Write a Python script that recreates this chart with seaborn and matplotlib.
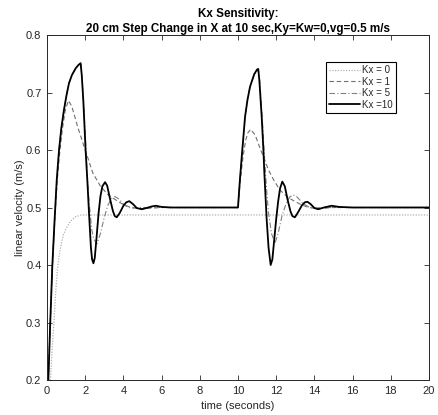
import matplotlib
matplotlib.use("Agg")
import matplotlib.pyplot as plt
import seaborn as sns
import pandas as pd

# ---- data ----
t_k0 = [0.0, 0.1, 0.19, 0.28, 0.37, 0.45, 0.54, 0.63, 0.72, 0.85, 1.06, 1.25, 1.5, 1.8, 2.1, 20.0]
v_k0 = [0.10, 0.15, 0.206, 0.26, 0.304, 0.35, 0.391, 0.415, 0.432, 0.452, 0.467, 0.477, 0.484, 0.487, 0.487, 0.487]

t_k1 = [0.0, 0.07, 0.17, 0.29, 0.41, 0.53, 0.65, 0.8, 0.95, 1.12, 1.3, 1.6, 2.0, 2.4, 2.8, 3.2, 3.65,
        4.0, 4.4, 5.0, 5.5, 6.0, 10.0, 10.1, 10.25, 10.4, 10.52, 10.66, 10.9, 11.1, 11.33, 11.6, 11.85,
        12.2, 12.6, 12.9, 13.3, 13.7, 14.2, 15.0, 20.0]
v_k1 = [0.13, 0.2, 0.3, 0.4, 0.48, 0.545, 0.59, 0.635, 0.668, 0.686, 0.676, 0.641, 0.600, 0.560, 0.537,
        0.522, 0.512, 0.505, 0.500, 0.498, 0.499, 0.5, 0.5, 0.54, 0.585, 0.617, 0.630, 0.636, 0.626,
        0.608, 0.588, 0.565, 0.549, 0.530, 0.518, 0.512, 0.505, 0.500, 0.498, 0.5, 0.5]

t_k5 = [0.0, 0.07, 0.17, 0.28, 0.4, 0.51, 0.63, 0.75, 0.89, 1.02, 1.15, 1.3, 1.5, 1.65, 1.78, 1.9, 2.0,
        2.1, 2.2, 2.35, 2.45, 2.62, 2.8, 3.0, 3.2, 3.4, 3.56, 3.75, 4.0, 4.25, 4.52, 5.0, 10.0,
        10.05, 10.1, 10.2, 10.37, 10.5, 10.63, 10.85, 11.06, 11.14, 11.28, 11.4, 11.5, 11.6, 11.75,
        11.94, 12.1, 12.3, 12.5, 12.7, 12.9, 13.1, 13.4, 13.7, 13.94, 14.5, 20.0]
v_k5 = [0.13, 0.2, 0.3, 0.4, 0.48, 0.548, 0.600, 0.638, 0.670, 0.695, 0.716, 0.730, 0.742, 0.748, 0.749,
        0.69, 0.63, 0.56, 0.51, 0.46, 0.445, 0.437, 0.455, 0.483, 0.505, 0.516, 0.519, 0.515, 0.506,
        0.500, 0.499, 0.5, 0.5, 0.525, 0.548, 0.59, 0.658, 0.688, 0.710, 0.731, 0.740, 0.72, 0.65,
        0.58, 0.53, 0.49, 0.455, 0.438, 0.455, 0.485, 0.505, 0.518, 0.522, 0.518, 0.507, 0.501,
        0.499, 0.5, 0.5]

t_k10 = [0.0, 0.07, 0.17, 0.28, 0.4, 0.51, 0.63, 0.75, 0.89, 1.02, 1.15, 1.3, 1.5, 1.65, 1.76, 1.82,
         1.90, 2.02, 2.11, 2.2, 2.3, 2.36, 2.43, 2.5, 2.6, 2.7, 2.8, 2.9, 3.04, 3.15, 3.3, 3.45, 3.55,
         3.65, 3.8, 4.0, 4.15, 4.31, 4.5, 4.7, 4.96, 5.2, 5.5, 5.7, 6.0, 6.5, 10.0,
         10.05, 10.1, 10.2, 10.37, 10.5, 10.63, 10.85, 11.0, 11.06, 11.12, 11.24, 11.33, 11.38, 11.5,
         11.6, 11.71, 11.8, 11.9, 12.0, 12.1, 12.2, 12.32, 12.45, 12.6, 12.75, 12.85, 12.98, 13.15,
         13.35, 13.5, 13.63, 13.8, 14.0, 14.2, 14.5, 14.9, 15.3, 16.0, 20.0]
v_k10 = [0.13, 0.2, 0.3, 0.4, 0.48, 0.548, 0.600, 0.638, 0.670, 0.695, 0.716, 0.730, 0.742, 0.748, 0.751,
         0.73, 0.687, 0.600, 0.548, 0.49, 0.43, 0.41, 0.403, 0.412, 0.45, 0.49, 0.52, 0.537, 0.544,
         0.538, 0.515, 0.494, 0.485, 0.483, 0.49, 0.503, 0.509, 0.511, 0.506, 0.499, 0.497, 0.499,
         0.502, 0.503, 0.501, 0.5, 0.5,
         0.525, 0.548, 0.59, 0.658, 0.688, 0.710, 0.732, 0.740, 0.741, 0.72, 0.658, 0.6, 0.56, 0.48,
         0.43, 0.40, 0.41, 0.445, 0.48, 0.51, 0.533, 0.545, 0.537, 0.513, 0.493, 0.485, 0.483, 0.492,
         0.504, 0.509, 0.510, 0.506, 0.499, 0.497, 0.500, 0.503, 0.501, 0.5, 0.5]

labels = ["Kx = 0", "Kx = 1", "Kx = 5", "Kx =10"]
title_lines = ["Kx Sensitivity:", "20 cm Step Change in X at 10 sec,Ky=Kw=0,vg=0.5 m/s"]
x_ticks = [0, 2, 4, 6, 8, 10, 12, 14, 16, 18, 20]
y_ticks = [0.2, 0.3, 0.4, 0.5, 0.6, 0.7, 0.8]

# ---- style ----
sns.set_theme(style="ticks")
plt.rcParams["font.family"] = ["Liberation Sans", "DejaVu Sans"]
ink = "#262626"
plt.rcParams.update({
    "xtick.direction": "in", "ytick.direction": "in",
    "xtick.top": True, "ytick.right": True,
    "xtick.major.size": 3.5, "ytick.major.size": 3.5,
    "xtick.major.width": 0.6, "ytick.major.width": 0.6,
    "xtick.color": ink, "ytick.color": ink,
    "axes.edgecolor": ink, "axes.linewidth": 0.7,
    "axes.labelcolor": ink,
})

fig = plt.figure(figsize=(4.38, 4.15), dpi=100)
ax = fig.add_axes([47 / 438, 35 / 415, 382 / 438, 345 / 415])

series = [
    (t_k0, v_k0, dict(color="#b0b0b0", linestyle=(0, (1, 1.2)), linewidth=0.9)),
    (t_k1, v_k1, dict(color="#707070", linestyle=(0, (4, 2.5)), linewidth=0.8)),
    (t_k5, v_k5, dict(color="#808080", linestyle=(0, (5, 2, 1, 2)), linewidth=0.8)),
    (t_k10, v_k10, dict(color="#000000", linestyle="-", linewidth=1.3)),
]
for (tt, vv, st), lab in zip(series, labels):
    df = pd.DataFrame({"t": tt, "v": vv})
    sns.lineplot(data=df, x="t", y="v", ax=ax, label=lab, sort=False, estimator=None, **st)

ax.set_xlim(0, 20)
ax.set_ylim(0.2, 0.8)
ax.set_xticks(x_ticks)
ax.set_xticklabels([str(v) for v in x_ticks])
ax.set_yticks(y_ticks)
ax.set_yticklabels([f"{v:.1f}" for v in y_ticks])
ax.tick_params(labelsize=8, pad=4)
ax.set_xlabel("time (seconds)", fontsize=8, color=ink, labelpad=4)
ax.set_ylabel("linear velocity (m/s)", fontsize=8, color=ink, labelpad=1)
ax.set_title("\n".join(title_lines), fontsize=8.4, fontweight="bold", color="#000000",
             pad=2, linespacing=1.3)

leg = ax.legend(loc="upper right", bbox_to_anchor=(0.914, 0.922), fontsize=7,
                frameon=True, fancybox=False, framealpha=1, edgecolor="#000000",
                handlelength=3.2, handletextpad=0.2, labelspacing=0.15, borderpad=0.35,
                borderaxespad=0)
leg.get_frame().set_linewidth(0.8)

fig.savefig("out.png", dpi=100, facecolor="white")
